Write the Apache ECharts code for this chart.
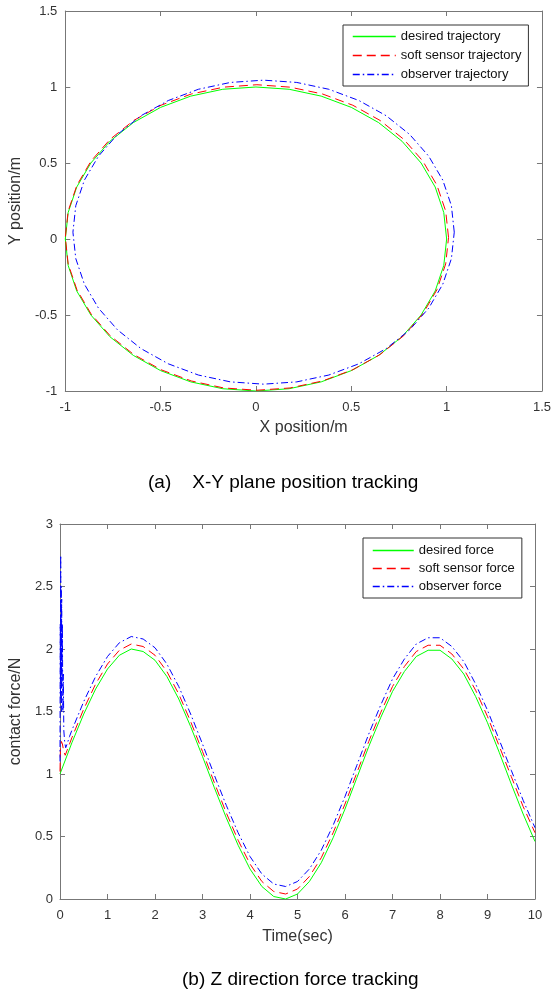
<!DOCTYPE html>
<html>
<head>
<meta charset="utf-8">
<style>
  html, body { margin: 0; padding: 0; background: #fff; }
  #chart { width: 554px; height: 990px; }
</style>
<script src="https://cdn.jsdelivr.net/npm/echarts@6/dist/echarts.min.js"></script>
</head>
<body>
<div id="chart"></div>
<script>
// ---------- (a) X-Y plane position tracking ----------
const xyTicks = [-1, -0.5, 0, 0.5, 1, 1.5];
const desiredX = [1.000,0.985,0.940,0.866,0.766,0.643,0.500,0.342,0.174,0.000,-0.174,-0.342,-0.500,-0.643,-0.766,-0.866,-0.940,-0.985,-1.000,-0.985,-0.940,-0.866,-0.766,-0.643,-0.500,-0.342,-0.174,0.000,0.174,0.342,0.500,0.643,0.766,0.866,0.940,0.985,1.000];
const desiredY = [0.000,0.174,0.342,0.500,0.643,0.766,0.866,0.940,0.985,1.000,0.985,0.940,0.866,0.766,0.643,0.500,0.342,0.174,0.000,-0.174,-0.342,-0.500,-0.643,-0.766,-0.866,-0.940,-0.985,-1.000,-0.985,-0.940,-0.866,-0.766,-0.643,-0.500,-0.342,-0.174,0.000];
const softX = [1.010,0.995,0.949,0.875,0.775,0.651,0.508,0.349,0.179,0.005,-0.169,-0.339,-0.498,-0.641,-0.765,-0.865,-0.939,-0.985,-1.000,-0.985,-0.939,-0.865,-0.765,-0.641,-0.498,-0.339,-0.169,0.005,0.179,0.349,0.508,0.651,0.775,0.875,0.949,0.995,1.010];
const softY = [0.010,0.184,0.354,0.513,0.656,0.780,0.880,0.954,0.999,1.015,0.999,0.954,0.880,0.780,0.656,0.513,0.354,0.184,0.010,-0.164,-0.334,-0.493,-0.636,-0.760,-0.860,-0.934,-0.980,-0.995,-0.980,-0.934,-0.860,-0.760,-0.636,-0.493,-0.334,-0.164,0.010];
const observerX = [1.040,1.025,0.980,0.906,0.806,0.683,0.540,0.382,0.214,0.040,-0.134,-0.302,-0.460,-0.603,-0.726,-0.826,-0.900,-0.945,-0.960,-0.945,-0.900,-0.826,-0.726,-0.603,-0.460,-0.302,-0.134,0.040,0.214,0.382,0.540,0.683,0.806,0.906,0.980,1.025,1.040];
const observerY = [0.045,0.219,0.387,0.545,0.688,0.811,0.911,0.985,1.030,1.045,1.030,0.985,0.911,0.811,0.688,0.545,0.387,0.219,0.045,-0.129,-0.297,-0.455,-0.598,-0.721,-0.821,-0.895,-0.940,-0.955,-0.940,-0.895,-0.821,-0.721,-0.598,-0.455,-0.297,-0.129,0.045];

// ---------- (b) Z direction force tracking ----------
const timeTicks = [0, 1, 2, 3, 4, 5, 6, 7, 8, 9, 10];
const forceTicks = [0, 0.5, 1, 1.5, 2, 2.5, 3];
const forceTime = [0.25,0.5,0.75,1,1.25,1.5,1.75,2,2.25,2.5,2.75,3,3.25,3.5,3.75,4,4.25,4.5,4.75,5,5.25,5.5,5.75,6,6.25,6.5,6.75,7,7.25,7.5,7.75,8,8.25,8.5,8.75,9,9.25,9.5,9.75,10];
const desiredForce = [1.25,1.48,1.68,1.84,1.95,2.00,1.98,1.91,1.78,1.60,1.38,1.14,0.89,0.65,0.43,0.24,0.10,0.02,0.00,0.04,0.14,0.29,0.49,0.72,0.97,1.22,1.45,1.66,1.82,1.94,1.99,1.99,1.92,1.80,1.62,1.41,1.17,0.92,0.68,0.46];
const softForce = [1.29,1.52,1.72,1.88,1.99,2.04,2.02,1.95,1.82,1.64,1.42,1.18,0.93,0.69,0.47,0.28,0.14,0.06,0.04,0.08,0.18,0.33,0.53,0.76,1.01,1.26,1.49,1.70,1.86,1.98,2.03,2.03,1.96,1.84,1.67,1.46,1.22,0.98,0.74,0.53];
const observerForce = [1.35,1.58,1.78,1.94,2.05,2.10,2.08,2.01,1.88,1.70,1.48,1.24,0.99,0.75,0.53,0.34,0.20,0.12,0.10,0.14,0.24,0.39,0.59,0.82,1.07,1.32,1.55,1.76,1.92,2.04,2.09,2.09,2.02,1.90,1.72,1.51,1.27,1.03,0.79,0.57];
const desiredStartTime = [0];
const desiredStartForce = [1.00];
const softStartTime = [0, 0.01, 0.03, 0.05, 0.08, 0.11, 0.15, 0.2];
const softStartForce = [1.02, 1.22, 1.26, 1.24, 1.18, 1.15, 1.19, 1.24];
const observerStartTime = [0, 0.005, 0.01, 0.015, 0.02, 0.025, 0.03, 0.035, 0.04, 0.05, 0.06, 0.07, 0.08, 0.1, 0.12, 0.15, 0.2];
const observerStartForce = [1.1, 2.2, 1.6, 2.75, 1.8, 2.5, 1.5, 2.4, 1.7, 2.2, 1.5, 1.8, 1.35, 1.25, 1.21, 1.24, 1.3];

const legendTop = ['desired trajectory', 'soft sensor trajectory', 'observer trajectory'];
const legendBottom = ['desired force', 'soft sensor force', 'observer force'];

function pairs(xs, ys) { return xs.map((x, i) => [x, ys[i]]); }

const FONT = 'Liberation Sans, Arial, sans-serif';
const AXIS_COLOR = '#777';
const LABEL_COLOR = '#333';
const GREEN = '#00ff00', RED = '#ff0000', BLUE = '#0000ff';
const DASH = [9, 5];
const DASHDOT = [7, 3, 1.5, 3];
const seriesColors = [GREEN, RED, BLUE];
const seriesDashes = ['solid', DASH, DASHDOT];

function mainAxis(gridIndex, position, ticks, name, nameGap, labelMargin) {
  const isX = position === 'bottom' || position === 'top';
  return {
    type: 'value', gridIndex, position,
    min: ticks[0], max: ticks[ticks.length - 1], interval: ticks[1] - ticks[0],
    name, nameLocation: 'middle', nameGap,
    nameRotate: isX ? 0 : 90,
    nameTextStyle: { fontFamily: FONT, fontSize: 16, color: LABEL_COLOR },
    axisLine: { show: true, onZero: false, lineStyle: { color: AXIS_COLOR, width: 1 } },
    axisTick: { show: true, inside: true, length: 5, lineStyle: { color: AXIS_COLOR } },
    axisLabel: { show: true, margin: labelMargin, fontFamily: FONT, fontSize: 13, color: LABEL_COLOR },
    splitLine: { show: false }
  };
}
function boxAxis(gridIndex, position, ticks) {
  return {
    type: 'value', gridIndex, position,
    min: ticks[0], max: ticks[ticks.length - 1], interval: ticks[1] - ticks[0],
    axisLine: { show: true, onZero: false, lineStyle: { color: AXIS_COLOR, width: 1 } },
    axisTick: { show: true, inside: true, length: 5, lineStyle: { color: AXIS_COLOR } },
    axisLabel: { show: false },
    splitLine: { show: false }
  };
}
function lineSeries(name, data, color, type, xi, yi) {
  return {
    name, type: 'line', data, xAxisIndex: xi, yAxisIndex: yi,
    symbol: 'none', showSymbol: false, smooth: false, clip: true,
    lineStyle: { color, width: 1, type },
    itemStyle: { color },
    emphasis: { disabled: true }
  };
}
function legend(names, left, top, itemWidth, padding, gap) {
  return {
    data: names.map((n, i) => ({
      name: n,
      lineStyle: { color: seriesColors[i], width: 1.5, type: seriesDashes[i] }
    })),
    orient: 'vertical', left, top,
    itemWidth, itemHeight: 13, itemGap: gap, padding,
    borderColor: '#333', borderWidth: 1, backgroundColor: '#fff',
    itemStyle: { opacity: 0, borderWidth: 0 },
    textStyle: { fontFamily: FONT, fontSize: 13, color: '#111' },
    selectedMode: false
  };
}

const chart = echarts.init(document.getElementById('chart'), null, { renderer: 'canvas' });
chart.setOption({
  animation: false,
  backgroundColor: '#fff',
  title: [
    { text: '(a)    X-Y plane position tracking', left: 143, top: 468,
      textStyle: { fontFamily: FONT, fontSize: 19, fontWeight: 'normal', color: '#000' } },
    { text: '(b) Z direction force tracking', left: 177, top: 965,
      textStyle: { fontFamily: FONT, fontSize: 19, fontWeight: 'normal', color: '#000' } }
  ],
  grid: [
    { left: 63, top: 11, width: 480, height: 380, containLabel: false },
    { left: 60, top: 524, width: 475, height: 375, containLabel: false }
  ],
  xAxis: [
    mainAxis(0, 'bottom', xyTicks, 'X position/m', 29, 10),
    boxAxis(0, 'top', xyTicks),
    mainAxis(1, 'bottom', timeTicks, 'Time(sec)', 30, 10),
    boxAxis(1, 'top', timeTicks)
  ],
  yAxis: [
    mainAxis(0, 'left', xyTicks, 'Y position/m', 37, 8),
    boxAxis(0, 'right', xyTicks),
    mainAxis(1, 'left', forceTicks, 'contact force/N', 30, 7),
    boxAxis(1, 'right', forceTicks)
  ],
  legend: [
    legend(legendTop, 343, 25, 43, [5, 7, 5, 9], 6),
    legend(legendBottom, 363, 538, 41, [6, 7, 5, 9], 5)
  ],
  series: [
    lineSeries(legendTop[0], pairs(desiredX, desiredY), GREEN, 'solid', 0, 0),
    lineSeries(legendTop[1], pairs(softX, softY), RED, DASH, 0, 0),
    lineSeries(legendTop[2], pairs(observerX, observerY), BLUE, DASHDOT, 0, 0),
    lineSeries(legendBottom[0], pairs(desiredStartTime.concat(forceTime), desiredStartForce.concat(desiredForce)), GREEN, 'solid', 2, 2),
    lineSeries(legendBottom[1], pairs(softStartTime.concat(forceTime), softStartForce.concat(softForce)), RED, DASH, 2, 2),
    lineSeries(legendBottom[2], pairs(observerStartTime.concat(forceTime), observerStartForce.concat(observerForce)), BLUE, DASHDOT, 2, 2)
  ]
});
</script>
</body>
</html>
